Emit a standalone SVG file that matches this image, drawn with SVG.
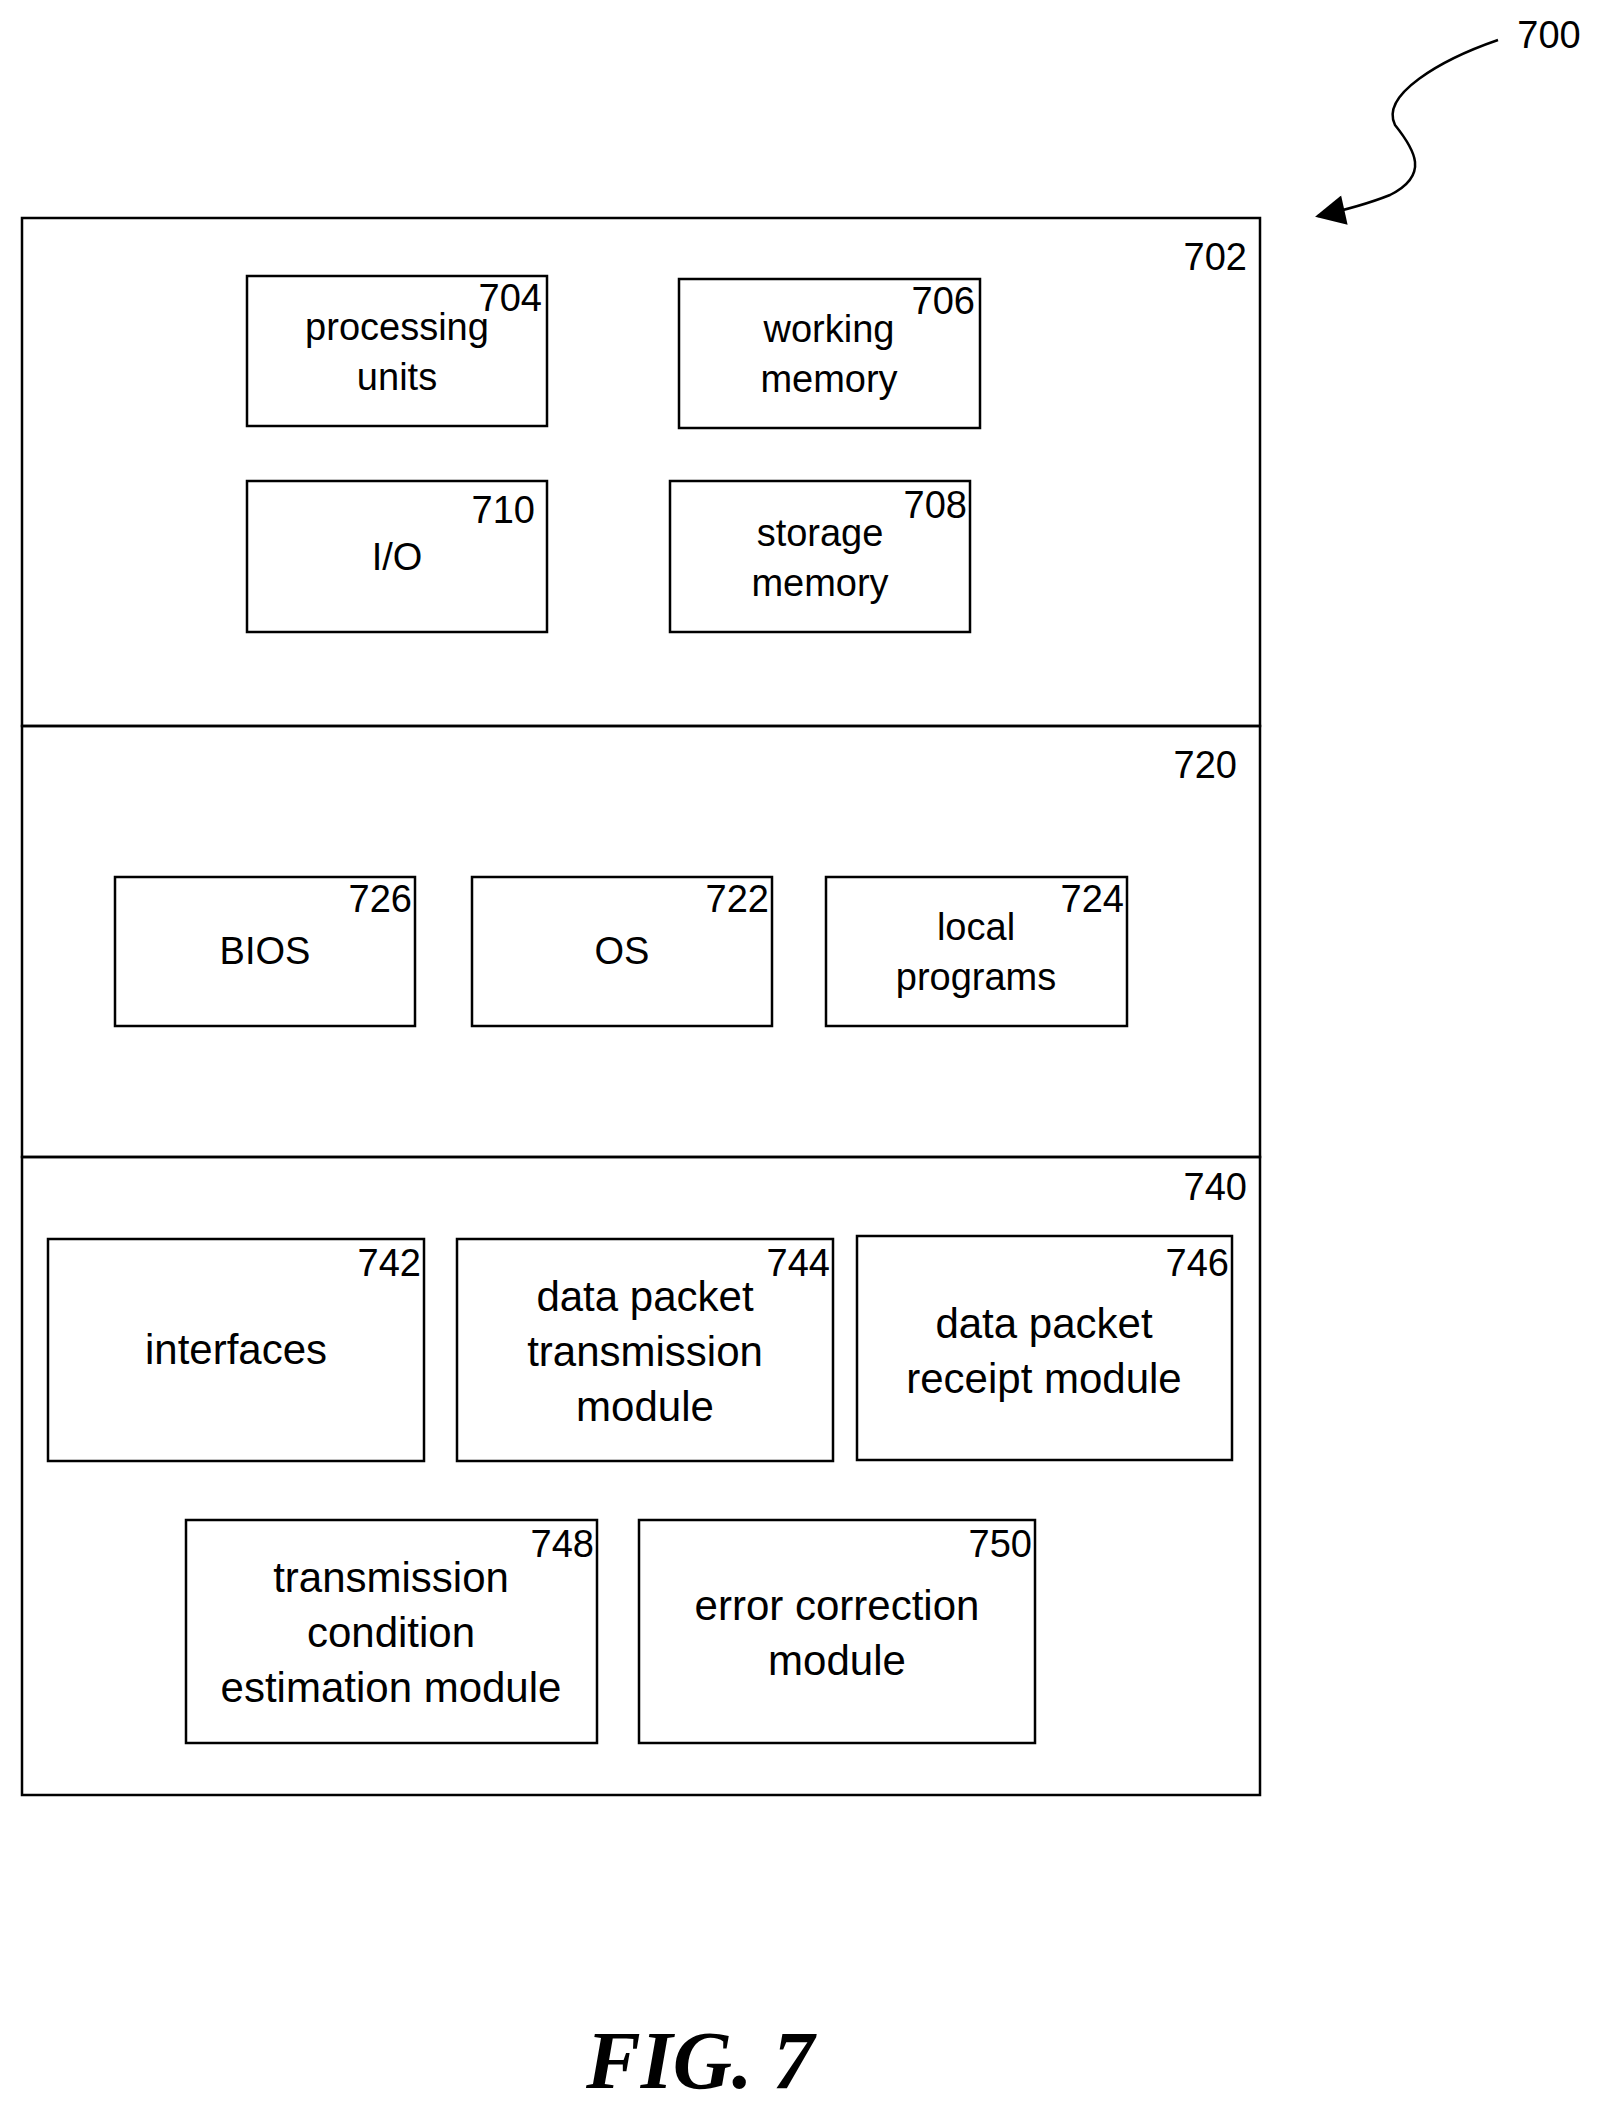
<svg xmlns="http://www.w3.org/2000/svg" width="1602" height="2110" viewBox="0 0 1602 2110">
<style>
rect{fill:none;stroke:#000;stroke-width:2.5}
text{font-family:"Liberation Sans",Arial,sans-serif;font-size:38px;fill:#000}
.t{text-anchor:middle}
.n{text-anchor:end}
.fig{font-family:"Liberation Serif","Times New Roman",serif;font-style:italic;font-weight:bold;font-size:82px;text-anchor:middle}
</style>
<defs><marker id="ah" viewBox="0 0 10 10" refX="9" refY="5" markerWidth="14" markerHeight="14" markerUnits="userSpaceOnUse" orient="auto"><path d="M0,0 L10,5 L0,10 z" fill="#000"/></marker>
<marker id="ah2" viewBox="0 0 10 10" refX="9" refY="5" markerWidth="40" markerHeight="30" markerUnits="userSpaceOnUse" orient="auto"><path d="M0,0 L10,5 L0,10 z" fill="#000"/></marker></defs>
<g id="connectors"><path d="M1498,40 C1440,60 1380,95 1395,125 C1415,150 1430,175 1390,195 C1365,205 1345,210 1318,216" fill="none" stroke="#000" stroke-width="2.5" marker-end="url(#ah2)"/></g>
<text x="1549" y="48" class="t">700</text>
<g id="n702"><rect x="22" y="218" width="1238" height="508"/><text x="1247" y="270" class="n">702</text></g>
<g id="n720"><rect x="22" y="726" width="1238" height="431"/><text x="1237" y="778" class="n">720</text></g>
<g id="n740"><rect x="22" y="1157" width="1238" height="638"/><text x="1247" y="1200" class="n">740</text></g>
<g id="n704"><rect x="247" y="276" width="300" height="150"/><text x="542" y="311" class="n">704</text><text x="397" y="340" class="t">processing</text><text x="397" y="390" class="t">units</text></g>
<g id="n706"><rect x="679" y="279" width="301" height="149"/><text x="975" y="314" class="n">706</text><text x="829" y="342" class="t">working</text><text x="829" y="392" class="t">memory</text></g>
<g id="n710"><rect x="247" y="481" width="300" height="151"/><text x="535" y="523" class="n">710</text><text x="397" y="570" class="t">I/O</text></g>
<g id="n708"><rect x="670" y="481" width="300" height="151"/><text x="967" y="518" class="n">708</text><text x="820" y="546" class="t">storage</text><text x="820" y="596" class="t">memory</text></g>
<g id="n726"><rect x="115" y="877" width="300" height="149"/><text x="412" y="912" class="n">726</text><text x="265" y="964" class="t">BIOS</text></g>
<g id="n722"><rect x="472" y="877" width="300" height="149"/><text x="769" y="912" class="n">722</text><text x="622" y="964" class="t">OS</text></g>
<g id="n724"><rect x="826" y="877" width="301" height="149"/><text x="1124" y="912" class="n">724</text><text x="976" y="940" class="t">local</text><text x="976" y="990" class="t">programs</text></g>
<g id="n742"><rect x="48" y="1239" width="376" height="222"/><text x="421" y="1276" class="n">742</text><text x="236" y="1364" class="t" style="font-size:42px">interfaces</text></g>
<g id="n744"><rect x="457" y="1239" width="376" height="222"/><text x="830" y="1276" class="n">744</text><text x="645" y="1311" class="t" style="font-size:42px">data packet</text><text x="645" y="1366" class="t" style="font-size:42px">transmission</text><text x="645" y="1421" class="t" style="font-size:42px">module</text></g>
<g id="n746"><rect x="857" y="1236" width="375" height="224"/><text x="1229" y="1276" class="n">746</text><text x="1044" y="1338" class="t" style="font-size:42px">data packet</text><text x="1044" y="1393" class="t" style="font-size:42px">receipt module</text></g>
<g id="n748"><rect x="186" y="1520" width="411" height="223"/><text x="594" y="1557" class="n">748</text><text x="391" y="1592" class="t" style="font-size:42px">transmission</text><text x="391" y="1647" class="t" style="font-size:42px">condition</text><text x="391" y="1702" class="t" style="font-size:42px">estimation module</text></g>
<g id="n750"><rect x="639" y="1520" width="396" height="223"/><text x="1032" y="1557" class="n">750</text><text x="837" y="1620" class="t" style="font-size:42px">error correction</text><text x="837" y="1675" class="t" style="font-size:42px">module</text></g>
<text x="700" y="2088" class="fig">FIG. 7</text>
</svg>
